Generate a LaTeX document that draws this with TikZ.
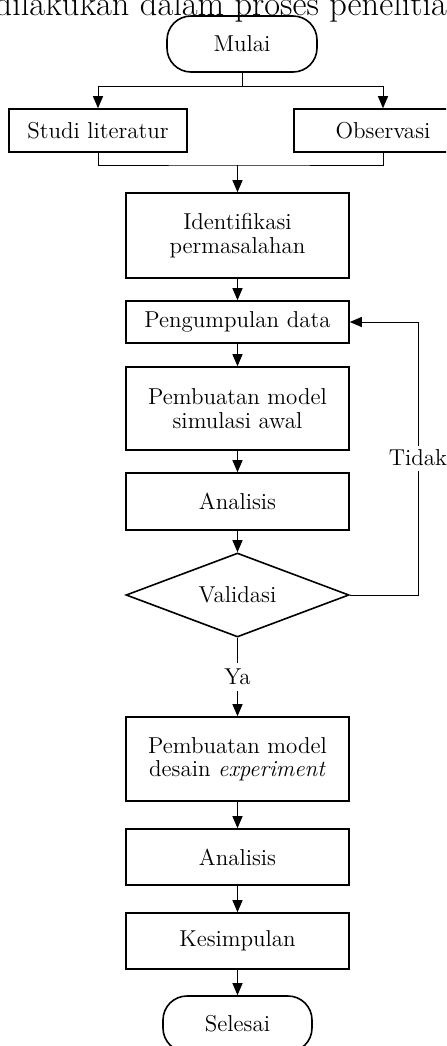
\documentclass[tikz,border=0pt]{standalone}
\usetikzlibrary{shapes.geometric,arrows.meta}
\begin{document}
\begin{tikzpicture}[x=0.5pt,y=-0.5pt,
  every node/.style={font=\fontsize{11.5}{11.7}\selectfont, inner sep=0pt, align=center},
  procbox/.style={draw, line width=0.8pt, rectangle, minimum width=111.5pt},
  termbox/.style={draw, line width=0.8pt, rectangle, rounded corners=12pt, minimum width=75pt, minimum height=28pt},
  decbox/.style={draw, line width=0.8pt, diamond, aspect=2.65, minimum width=111.5pt, minimum height=42pt},
  conn/.style={line width=0.5pt},
  arr/.style={conn, -{Triangle[length=6pt,width=5pt]}}
]
\useasboundingbox (0,0) rectangle (446,1046);
\begin{scope}
\clip (0,0) rectangle (446,1046);
\node[anchor=base east, font=\fontsize{17.2}{19}\selectfont] (title) at (465,15) {dilakukan dalam proses penelitian};

\node[termbox] (mulai) at (242,44) {Mulai};
\node[procbox, minimum width=89pt, minimum height=21.5pt] (studi) at (98,130.5) {Studi literatur};
\node[procbox, minimum width=89pt, minimum height=21.5pt] (obs) at (383,130.5) {Observasi};
\node[procbox, minimum height=42.5pt] (ident) at (237.5,235.5) {Identifikasi\\permasalahan};
\node[procbox, minimum height=21pt] (kumpul) at (237.5,322) {Pengumpulan data};
\node[procbox, minimum height=41.5pt] (simul) at (237.5,408.5) {Pembuatan model\\simulasi awal};
\node[procbox, minimum height=28.5pt] (anal1) at (237.5,501.5) {Analisis};
\node[decbox] (valid) at (237.5,595) {Validasi};
\node (ya) at (237.5,677) {Ya};
\node[procbox, minimum height=42pt] (desain) at (237.5,759) {Pembuatan model\\desain \textit{experiment}};
\node[procbox, minimum height=28pt] (anal2) at (237.5,857) {Analisis};
\node[procbox, minimum height=28pt] (kesim) at (237.5,941) {Kesimpulan};
\node[termbox, minimum width=74.5pt] (selesai) at (237.5,1024) {Selesai};

\coordinate (j1) at (242,86);
\coordinate (j2) at (237.5,165);
\coordinate (loopc) at (418,595);
\node[fill=white, inner ysep=2pt] (tidak) at (418,458) {Tidak};

\draw[conn] (mulai.south) -- (j1);
\draw[arr] (j1) -| (studi.north);
\draw[arr] (j1) -| (obs.north);
\draw[conn] (studi.south) |- (j2) -| (obs.south);
\draw[arr] (j2) -- (ident.north);
\draw[arr] (ident) -- (kumpul);
\draw[arr] (kumpul) -- (simul);
\draw[arr] (simul) -- (anal1);
\draw[arr] (anal1) -- (valid);
\draw[conn] (valid.east) -- (loopc) -- (tidak.south);
\draw[arr] (tidak.north) |- (kumpul.east);
\draw[conn] (valid.south) -- ([yshift=3pt]ya.north);
\draw[arr] ([yshift=-3pt]ya.south) -- (desain.north);
\draw[arr] (desain) -- (anal2);
\draw[arr] (anal2) -- (kesim);
\draw[arr] (kesim) -- (selesai);
\end{scope}
\end{tikzpicture}
\end{document}
